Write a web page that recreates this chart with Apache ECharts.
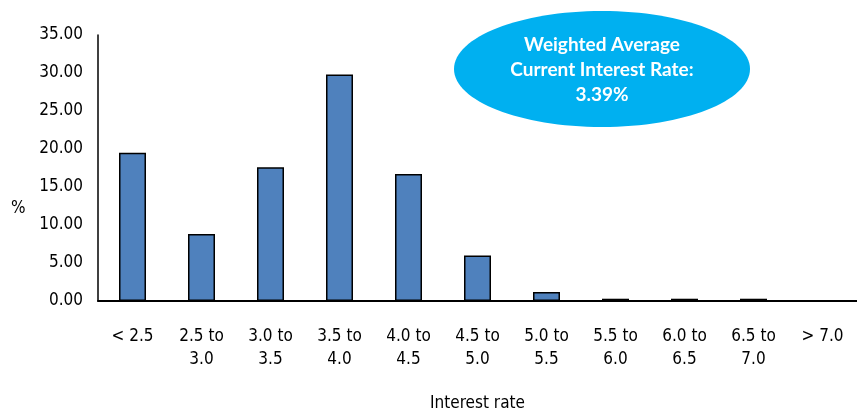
<!DOCTYPE html>
<html>
<head>
<meta charset="UTF-8">
<title>Interest rate</title>
<style>
    html, body { margin: 0; padding: 0; background: #FFF; }
</style>
</head>
<body>
<div id="main" style="width:857px;height:412px"></div>
<script src="https://cdn.jsdelivr.net/npm/echarts@6/dist/echarts.min.js"></script>
<script type="text/javascript">
    var categories = ['< 2.5', '2.5 to\n3.0', '3.0 to\n3.5', '3.5 to\n4.0', '4.0 to\n4.5', '4.5 to\n5.0',
        '5.0 to\n5.5', '5.5 to\n6.0', '6.0 to\n6.5', '6.5 to\n7.0', '> 7.0'];
    var shares = [19.5, 8.8, 17.6, 29.8, 16.7, 6.0, 1.2, 0.3, 0.3, 0.3, 0];
    var yTicks = [0, 35, 5];

    var narrow = '"DejaVu Sans Condensed", "Liberation Sans Narrow", sans-serif';

    var mCharts = echarts.init(document.getElementById('main'));
    mCharts.setOption({
        animation: false,
        grid: {left: 98, right: 0, top: 35, bottom: 111, outerBoundsMode: 'none'},
        xAxis: {
            type: 'category',
            data: categories,
            axisLine: {lineStyle: {color: '#000', width: 2}},
            axisTick: {show: false},
            axisLabel: {color: '#000', fontFamily: narrow, fontSize: 17, lineHeight: 23, margin: 24},
            name: 'Interest rate',
            nameLocation: 'middle',
            nameGap: 94,
            nameTextStyle: {color: '#000', fontFamily: narrow, fontSize: 17}
        },
        yAxis: {
            type: 'value',
            min: yTicks[0],
            max: yTicks[1],
            interval: yTicks[2],
            splitLine: {show: false},
            axisLine: {show: true, lineStyle: {color: '#000', width: 1.5}},
            axisTick: {show: false},
            axisLabel: {
                color: '#000', fontFamily: narrow, fontSize: 17, margin: 15,
                formatter: function (v) { return v.toFixed(2); }
            }
        },
        series: [{
            type: 'bar',
            data: shares,
            barWidth: 27,
            itemStyle: {color: '#4F81BD', borderColor: '#000', borderWidth: 1.5}
        }],
        graphic: [{
            type: 'text',
            left: 11,
            top: 200,
            style: {text: '%', fill: '#000', font: '17px ' + narrow}
        }, {
            type: 'ellipse',
            shape: {cx: 602, cy: 69, rx: 148, ry: 58},
            style: {fill: '#00B0F0'}
        }, {
            type: 'text',
            x: 602,
            y: 70,
            style: {
                text: 'Weighted Average\nCurrent Interest Rate:\n3.39%',
                fill: '#FFF',
                font: 'bold 19px Lato, "Open Sans", sans-serif',
                lineHeight: 25,
                align: 'center',
                verticalAlign: 'middle'
            }
        }]
    });
</script>
</body>
</html>
